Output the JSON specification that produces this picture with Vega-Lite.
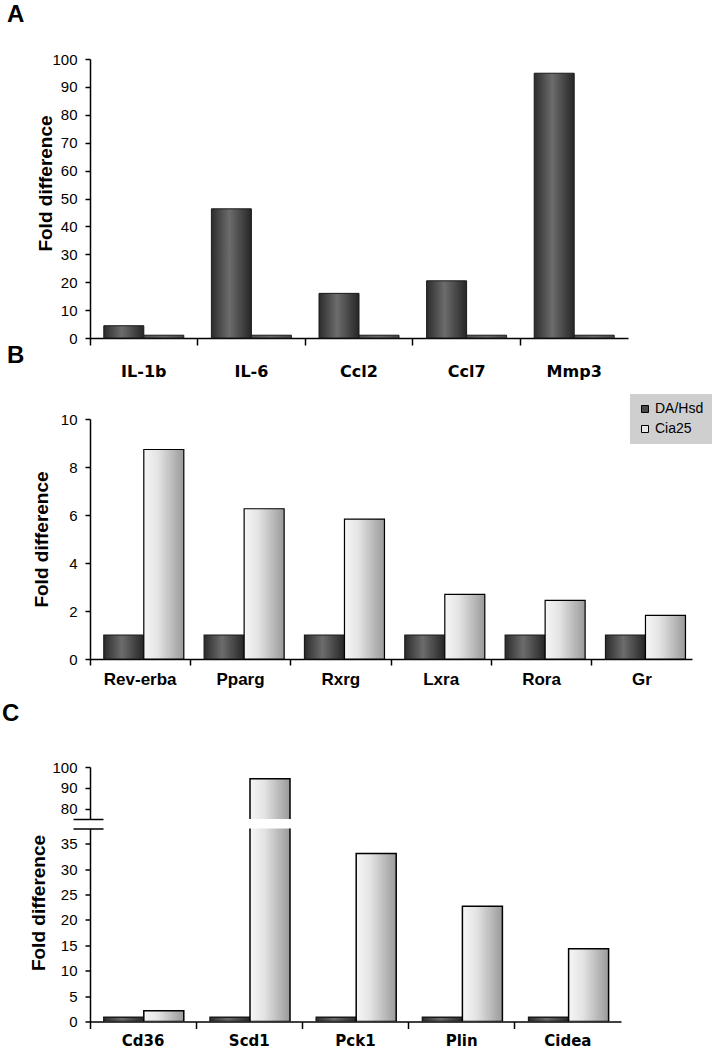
{
  "$schema": "https://vega.github.io/schema/vega-lite/v6.json",
  "padding": {"left": 2, "top": 3, "right": 0, "bottom": 0},
  "background": "white",
  "config": {
    "view": {"stroke": null},
    "axis": {"domainColor": "#000", "tickColor": "#000", "labelColor": "#000", "titleColor": "#000", "grid": false, "domainWidth": 1.5, "tickWidth": 1.5, "labelFont": "Liberation Sans", "titleFont": "Liberation Sans"},
    "title": {"font": "Liberation Sans", "fontSize": 24, "fontWeight": "bold", "color": "#000", "anchor": "start", "frame": "group", "baseline": "alphabetic"}
  },
  "datasets": {
    "A": [
      {"gene": "IL-1b", "series": "DA/Hsd", "value": 4.4},
      {"gene": "IL-1b", "series": "Cia25", "value": 1.0},
      {"gene": "IL-6", "series": "DA/Hsd", "value": 46.3},
      {"gene": "IL-6", "series": "Cia25", "value": 1.0},
      {"gene": "Ccl2", "series": "DA/Hsd", "value": 16.0},
      {"gene": "Ccl2", "series": "Cia25", "value": 1.0},
      {"gene": "Ccl7", "series": "DA/Hsd", "value": 20.5},
      {"gene": "Ccl7", "series": "Cia25", "value": 1.0},
      {"gene": "Mmp3", "series": "DA/Hsd", "value": 94.9},
      {"gene": "Mmp3", "series": "Cia25", "value": 1.0}
    ],
    "B": [
      {"gene": "Rev-erba", "series": "DA/Hsd", "value": 1.0},
      {"gene": "Rev-erba", "series": "Cia25", "value": 8.73},
      {"gene": "Pparg", "series": "DA/Hsd", "value": 1.0},
      {"gene": "Pparg", "series": "Cia25", "value": 6.26},
      {"gene": "Rxrg", "series": "DA/Hsd", "value": 1.0},
      {"gene": "Rxrg", "series": "Cia25", "value": 5.83},
      {"gene": "Lxra", "series": "DA/Hsd", "value": 1.0},
      {"gene": "Lxra", "series": "Cia25", "value": 2.69},
      {"gene": "Rora", "series": "DA/Hsd", "value": 1.0},
      {"gene": "Rora", "series": "Cia25", "value": 2.44},
      {"gene": "Gr", "series": "DA/Hsd", "value": 1.0},
      {"gene": "Gr", "series": "Cia25", "value": 1.82}
    ],
    "C": [
      {"gene": "Cd36", "series": "DA/Hsd", "value": 0.85},
      {"gene": "Cd36", "series": "Cia25", "value": 2.1},
      {"gene": "Scd1", "series": "DA/Hsd", "value": 0.85},
      {"gene": "Scd1", "series": "Cia25", "value": 94.3},
      {"gene": "Pck1", "series": "DA/Hsd", "value": 0.85},
      {"gene": "Pck1", "series": "Cia25", "value": 33.1},
      {"gene": "Plin", "series": "DA/Hsd", "value": 0.85},
      {"gene": "Plin", "series": "Cia25", "value": 22.7},
      {"gene": "Cidea", "series": "DA/Hsd", "value": 0.85},
      {"gene": "Cidea", "series": "Cia25", "value": 14.3}
    ]
  },
  "spacing": -35,
  "resolve": {"legend": {"color": "independent"}},
  "vconcat": [
    {
      "data": {"name": "A"},
      "width": 538,
      "height": 279,
      "title": {"text": "A", "dx": -83, "offset": 25},
      "mark": {"type": "bar", "strokeWidth": 1},
      "encoding": {
        "x": {"field": "gene", "type": "nominal", "scale": {"domain": ["IL-1b", "IL-6", "Ccl2", "Ccl7", "Mmp3"], "paddingInner": 0, "paddingOuter": 0},
          "axis": {"title": null, "bandPosition": 0, "tickSize": 7, "labelPadding": 18, "labelAngle": 0, "labelFont": "DejaVu Sans", "labelFontWeight": "bold", "labelFontSize": 16}},
        "xOffset": {"field": "series", "type": "nominal", "scale": {"domain": ["DA/Hsd", "Cia25"], "paddingInner": 0, "paddingOuter": 0.345}},
        "y": {"field": "value", "type": "quantitative", "scale": {"domain": [0, 100], "nice": false},
          "axis": {"values": [0, 10, 20, 30, 40, 50, 60, 70, 80, 90, 100], "title": "Fold difference", "titleFontSize": 19, "titleFontWeight": "bold", "titlePadding": 4, "titleY": 124, "minExtent": 31, "maxExtent": 31, "tickSize": 5, "labelPadding": 8, "labelFontSize": 15}},
        "fill": {
          "condition": {"test": "datum.series === 'DA/Hsd'", "value": {"gradient": "linear", "x1": 0, "x2": 1, "y1": 0, "y2": 0, "stops": [{"offset": 0, "color": "#2c2c2c"}, {"offset": 0.45, "color": "#6c6c6c"}, {"offset": 1, "color": "#262626"}]}},
          "value": {"gradient": "linear", "x1": 0, "x2": 1, "y1": 0, "y2": 0, "stops": [{"offset": 0, "color": "#4e4e4e"}, {"offset": 0.5, "color": "#6a6a6a"}, {"offset": 1, "color": "#474747"}]}
        },
        "stroke": {"value": "#1a1a1a"}
      }
    },
    {
      "spacing": 15,
      "resolve": {"legend": {"color": "independent"}},
      "vconcat": [
        {
          "data": {"name": "B"},
          "width": 602,
          "height": 240,
          "title": {"text": "B", "dx": -83, "offset": 26},
          "encoding": {
            "x": {"field": "gene", "type": "nominal", "scale": {"domain": ["Rev-erba", "Pparg", "Rxrg", "Lxra", "Rora", "Gr"], "paddingInner": 0, "paddingOuter": 0},
              "axis": {"title": null, "bandPosition": 0, "tickSize": 6, "labelPadding": 6, "labelAngle": 0, "labelFont": "Liberation Sans", "labelFontWeight": "bold", "labelFontSize": 17}},
            "xOffset": {"field": "series", "type": "nominal", "scale": {"domain": ["DA/Hsd", "Cia25"], "paddingInner": 0, "paddingOuter": 0.754}},
            "y": {"field": "value", "type": "quantitative", "scale": {"domain": [0, 10], "nice": false},
              "axis": {"values": [0, 2, 4, 6, 8, 10], "title": "Fold difference", "titleFontSize": 19, "titleFontWeight": "bold", "titlePadding": 7.5, "minExtent": 31, "maxExtent": 31, "tickSize": 5, "labelPadding": 8, "labelFontSize": 15}}
          },
          "layer": [
            {
              "mark": {"type": "bar", "strokeWidth": 1.2},
              "encoding": {
                "fill": {
                  "condition": {"test": "datum.series === 'DA/Hsd'", "value": {"gradient": "linear", "x1": 0, "x2": 1, "y1": 0, "y2": 0, "stops": [{"offset": 0, "color": "#2c2c2c"}, {"offset": 0.45, "color": "#6c6c6c"}, {"offset": 1, "color": "#262626"}]}},
                  "value": {"gradient": "linear", "x1": 0, "x2": 1, "y1": 0, "y2": 0, "stops": [{"offset": 0, "color": "#f6f6f6"}, {"offset": 0.35, "color": "#e4e4e4"}, {"offset": 1, "color": "#9a9a9a"}]}
                },
                "stroke": {"condition": {"test": "datum.series === 'DA/Hsd'", "value": "#1a1a1a"}, "value": "#000"}
              }
            },
            {
              "mark": {"type": "bar", "opacity": 0, "clip": true},
              "encoding": {
                "color": {"field": "series", "type": "nominal", "scale": {"domain": ["DA/Hsd", "Cia25"], "range": ["#4a4a4a", "#e6e6e6"]},
                  "legend": {"orient": "none", "legendX": 540, "legendY": -25, "title": null, "fillColor": "#cfcfcf", "padding": 8, "symbolType": "square", "symbolSize": 49, "symbolStrokeColor": "#000", "symbolStrokeWidth": 1, "symbolOpacity": 1, "labelFont": "Liberation Sans", "labelFontSize": 14, "labelColor": "#000", "rowPadding": 6, "labelOffset": 3}}
              }
            }
          ]
        },
        {
          "spacing": 7.5,
          "vconcat": [
            {
              "data": {"name": "C"},
              "transform": [{"filter": "datum.value > 75"}],
              "width": 531,
              "height": 52,
              "title": {"text": "C", "dx": -88, "offset": 34},
              "encoding": {
                "x": {"field": "gene", "type": "nominal", "scale": {"domain": ["Cd36", "Scd1", "Pck1", "Plin", "Cidea"], "paddingInner": 0, "paddingOuter": 0}, "axis": null},
                "xOffset": {"field": "series", "type": "nominal", "scale": {"domain": ["DA/Hsd", "Cia25"], "paddingInner": 0, "paddingOuter": 0.767}}
              },
              "layer": [
                {
                  "mark": {"type": "bar", "clip": true, "strokeWidth": 1.5},
                  "encoding": {
                    "y": {"field": "value", "type": "quantitative", "scale": {"domain": [75, 100], "nice": false, "zero": false},
                      "axis": {"orient": "left", "values": [80, 90, 100], "title": null, "minExtent": 31, "maxExtent": 31, "tickSize": 5, "labelPadding": 8, "labelFontSize": 15}},
                    "y2": {"datum": 70},
                    "fill": {"value": {"gradient": "linear", "x1": 0, "x2": 1, "y1": 0, "y2": 0, "stops": [{"offset": 0, "color": "#f6f6f6"}, {"offset": 0.35, "color": "#e4e4e4"}, {"offset": 1, "color": "#9a9a9a"}]}},
                    "stroke": {"value": "#000"}
                  }
                },
                {
                  "mark": {"type": "bar", "opacity": 0, "clip": true},
                  "encoding": {
                    "y": {"field": "value", "type": "quantitative", "scale": {"domain": [75, 100], "nice": false, "zero": false},
                      "axis": {"orient": "left", "values": [75], "offset": -13, "tickSize": 30, "tickWidth": 1.5, "domain": false, "labels": false, "title": null}},
                    "y2": {"datum": 75}
                  }
                }
              ],
              "resolve": {"axis": {"y": "independent"}}
            },
            {
              "data": {"name": "C"},
              "width": 531,
              "height": 193,
              "encoding": {
                "x": {"field": "gene", "type": "nominal", "scale": {"domain": ["Cd36", "Scd1", "Pck1", "Plin", "Cidea"], "paddingInner": 0, "paddingOuter": 0},
                  "axis": {"title": null, "bandPosition": 0, "tickSize": 7, "labelPadding": 5, "labelAngle": 0, "labelFont": "DejaVu Sans", "labelFontWeight": "bold", "labelFontSize": 15}},
                "xOffset": {"field": "series", "type": "nominal", "scale": {"domain": ["DA/Hsd", "Cia25"], "paddingInner": 0, "paddingOuter": 0.767}}
              },
              "layer": [
                {
                  "mark": {"type": "bar", "clip": true, "strokeWidth": 1.5},
                  "encoding": {
                    "y": {"field": "value", "type": "quantitative", "scale": {"domain": [0, 38], "nice": false},
                      "axis": {"orient": "left", "values": [0, 5, 10, 15, 20, 25, 30, 35], "title": "Fold difference", "titleFontSize": 19, "titleFontWeight": "bold", "titlePadding": 11, "titleY": 74, "minExtent": 31, "maxExtent": 31, "tickSize": 5, "labelPadding": 8, "labelFontSize": 15}},
                    "fill": {
                      "condition": {"test": "datum.series === 'DA/Hsd'", "value": {"gradient": "linear", "x1": 0, "x2": 1, "y1": 0, "y2": 0, "stops": [{"offset": 0, "color": "#2c2c2c"}, {"offset": 0.45, "color": "#6c6c6c"}, {"offset": 1, "color": "#262626"}]}},
                      "value": {"gradient": "linear", "x1": 0, "x2": 1, "y1": 0, "y2": 0, "stops": [{"offset": 0, "color": "#f6f6f6"}, {"offset": 0.35, "color": "#e4e4e4"}, {"offset": 1, "color": "#9a9a9a"}]}
                    },
                    "stroke": {"condition": {"test": "datum.series === 'DA/Hsd'", "value": "#1a1a1a"}, "value": "#000"}
                  }
                },
                {
                  "mark": {"type": "bar", "opacity": 0, "clip": true},
                  "encoding": {
                    "y": {"field": "value", "type": "quantitative", "scale": {"domain": [0, 38], "nice": false},
                      "axis": {"orient": "left", "values": [38], "offset": -13, "tickSize": 30, "tickWidth": 1.5, "domain": false, "labels": false, "title": null}}
                  }
                }
              ],
              "resolve": {"axis": {"y": "independent"}}
            }
          ]
        }
      ]
    }
  ]
}
